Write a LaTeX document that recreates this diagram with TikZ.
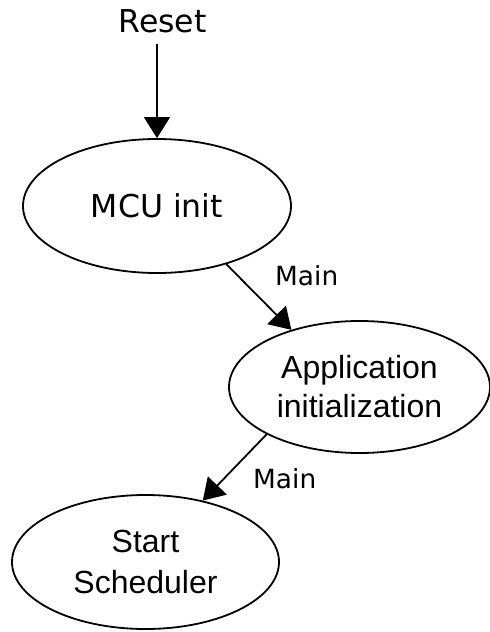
\documentclass[tikz,border=0pt]{standalone}
\usepackage{fontspec}
\setmainfont{DejaVu Sans}
\newfontfamily\arialfont{Liberation Sans}
\usetikzlibrary{shapes.geometric,arrows.meta}
\begin{document}
\begin{tikzpicture}[x=1pt,y=-1pt,
  state/.style={ellipse,draw,line width=1.8pt,inner sep=0pt,align=center},
  lbl/.style={inner sep=0pt,font=\fontsize{26.4}{30}\selectfont},
  arr/.style={line width=1.8pt,-{Triangle[length=21pt,width=26pt]}}]
\useasboundingbox (0,0) rectangle (490,632);
\node[anchor=base,inner sep=0pt,font=\fontsize{31.5}{36}\selectfont] (reset) at (162.5,32) {Reset};
\node[state,minimum width=268pt,minimum height=134pt,font=\fontsize{31.5}{36}\selectfont] (mcu) at (157,206) {MCU init};
\node[state,minimum width=261pt,minimum height=132pt,font=\arialfont\fontsize{32}{39}\selectfont] (app) at (359.5,387) {Application\\initialization};
\node[state,minimum width=267pt,minimum height=134pt,font=\arialfont\fontsize{32}{41}\selectfont] (start) at (145.5,562) {Start\\Scheduler};
\coordinate (rs) at (157,44);
\draw[arr] (rs) -- (mcu.north);
\draw[arr] (mcu.-40.5) -- (app.140.3);
\draw[arr] (app.207.4) -- (start.47.2);
\node[lbl,anchor=base west] (m1) at (275,285) {Main};
\node[lbl,anchor=base west] (m2) at (253,488) {Main};
\end{tikzpicture}
\end{document}
